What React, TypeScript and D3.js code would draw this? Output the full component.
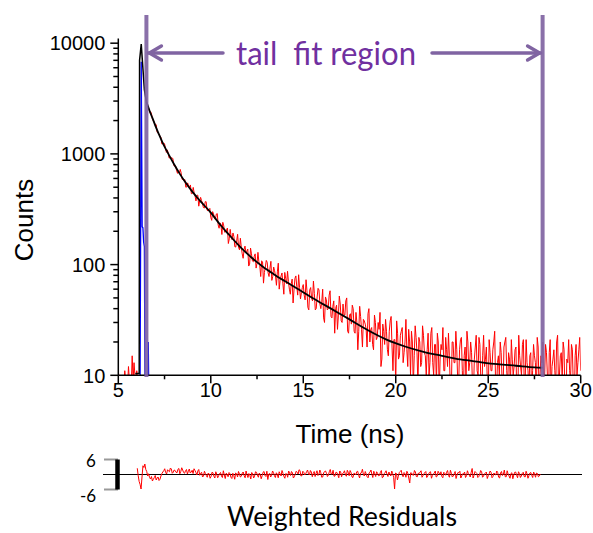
import React from 'react';
import * as d3 from 'd3';

// ---------- data ----------
const xMajorTicks = [5, 10, 15, 20, 25, 30];
const xMinorTicks = [7.5, 12.5, 17.5, 22.5, 27.5];
const yMajorTicks = [10, 100, 1000, 10000];
const yTickLabels = ['10', '100', '1000', '10000'];

const fitStart = 6.52;
const fitEnd = 27.94;

// fitted decay (black)
const fitTimes = [6.52, 6.6, 6.7, 6.8, 6.9, 7.0, 7.2, 7.4, 7.6, 7.8, 8.0, 8.3, 8.6, 9.0, 9.4, 10.0, 10.5, 11.0, 11.6, 12.2, 12.8, 13.4, 14.0, 14.8, 15.5, 16.5, 17.5, 18.5, 19.5, 20.5, 21.5, 22.5, 23.5, 24.5, 25.5, 26.5, 27.5, 27.94];
const fitCounts = [2950, 2700, 2430, 2200, 2000, 1800, 1500, 1260, 1080, 935, 815, 670, 562, 456, 380, 295, 230, 185, 144, 116, 96, 82, 71, 59, 50, 40, 32, 25.5, 21, 18.2, 16.3, 15.0, 13.9, 13.2, 12.6, 12.2, 11.8, 11.7];

// rising edge of the decay, outside the fit region (black)
const riseTimes = [5.92, 6.13, 6.15, 6.24, 6.41, 6.52];
const riseCounts = [10.4, 10.4, 7000, 9800, 3800, 2950];

// instrument response (blue)
const irfTimes = [6.18, 6.24, 6.29, 6.33, 6.37, 6.41, 6.44, 6.6, 6.62, 6.64];
const irfCounts = [10, 6800, 220, 215, 160, 145, 10, 10, 20, 10];

// measured counts before the peak (red), channels of 0.05 ns
const preStart = 5.0;
const preStep = 0.05;
const preCounts = [11, 9, 10, 8, 9, 10, 8, 11, 9, 10, 8, 12, 9, 10, 8, 15, 9, 13, 10, 9, 11, 9, 10];

// measured decay counts (red): even channels (6.60, 6.70, ...) and odd channels (6.65, 6.75, ...)
const tailStep = 0.1;
const tailStartEven = 6.6;
const tailCountsEven = [
  2726, 2371, 2285, 1987, 1838, 1568, 1508, 1421, 1235, 1238,
  1031, 1013, 932, 916, 789, 779, 667, 670, 670, 585,
  586, 502, 510, 524, 439, 446, 376, 423, 376, 379,
  328, 370, 310, 313, 267, 301, 260, 286, 228, 238,
  187, 224, 198, 214, 171, 178, 193, 145, 164, 144,
  173, 125, 137, 128, 138, 101, 125, 106, 125, 103,
  106, 78, 106, 85, 109, 84, 93, 72, 95, 79,
  86, 60, 79, 67, 85, 67, 70, 54, 74, 59,
  79, 53, 62, 56, 66, 48, 58, 39, 62, 47,
  55, 40, 61, 44, 46, 33, 51, 39, 53, 34,
  42, 24, 43, 35, 44, 30, 35, 47, 25, 35,
  29, 40, 24, 30, 25, 34, 18, 31, 26, 36,
  20, 27, 17, 30, 22, 26, 12, 29, 19, 25,
  15, 31, 18, 21, 8, 24, 15, 25, 13, 20,
  17, 26, 10, 20, 15, 22, 8, 20, 13, 23,
  15, 17, 10, 24, 13, 19, 8, 20, 14, 17,
  11, 22, 12, 15, 6, 20, 13, 17, 8, 21,
  11, 15, 9, 20, 13, 16, 7, 18, 11, 22,
  9, 15, 12, 18, 6, 16, 11, 20, 8, 13,
  10, 16, 7, 20, 11, 16, 8, 14, 12, 18,
  6, 15, 10, 21, 9, 13, 7, 16, 11, 15,
  6, 18, 10, 13, 8, 19, 10, 16, 7, 14,
  11, 20, 8, 15, 9, 17, 5, 13, 11, 19,
  8, 15, 10, 17, 11,
];
const tailStartOdd = 6.65;
const tailCountsOdd = [
  2545, 2406, 2040, 1926, 1837, 1543, 1448, 1233, 1248, 1117,
  1088, 915, 929, 909, 771, 708, 703, 724, 590, 580,
  500, 547, 501, 437, 498, 418, 424, 337, 405, 356,
  324, 370, 305, 322, 251, 286, 257, 289, 213, 230,
  241, 196, 205, 155, 208, 168, 179, 144, 188, 136,
  143, 114, 147, 132, 97, 141, 108, 119, 93, 129,
  98, 108, 68, 95, 105, 78, 107, 78, 88, 65,
  103, 72, 84, 54, 75, 87, 60, 67, 45, 75,
  63, 81, 49, 62, 53, 73, 41, 59, 50, 71,
  39, 51, 59, 40, 60, 30, 48, 40, 58, 33,
  47, 40, 26, 52, 31, 44, 35, 50, 24, 36,
  43, 25, 37, 17, 42, 26, 32, 29, 18, 40,
  26, 19, 35, 21, 30, 37, 14, 25, 32, 17,
  25, 34, 11, 21, 31, 14, 23, 27, 16, 32,
  12, 20, 25, 8, 28, 16, 22, 12, 28, 16,
  10, 24, 13, 27, 10, 19, 24, 7, 19, 27,
  11, 17, 24, 8, 20, 13, 25, 9, 17, 22,
  6, 18, 25, 11, 20, 8, 14, 23, 10, 19,
  5, 23, 14, 9, 21, 11, 17, 25, 7, 15,
  20, 9, 18, 22, 8, 14, 21, 10, 17, 5,
  23, 12, 19, 8, 21, 11, 15, 6, 19, 13,
  22, 7, 15, 20, 10, 16, 4, 21, 12, 17,
  8, 23, 10, 16, 20, 6, 14, 21, 9, 17,
  5, 19, 13, 22,
];

// weighted residuals: even and odd channels
const residStep = 0.1;
const residStartEven = 6.6;
const residEven = [
  2.5, -2.8, -5.8, 3.5, 4.2, 1.2, 0.3, -1.8, -2.6, -1.2,
  -2.2, -1.0, -1.9, 0.4, 1.5, 0.8, 1.9, 1.1, 2.2, 0.9,
  1.6, 0.7, 2.4, 1.2, 1.8, 0.5, 2.0, 1.3, 0.6, 1.7,
  2.3, 0.8, 1.4, -0.3, 0.9, -0.6, 0.4, -1.1, 0.2, -0.8,
  0.7, -1.4, 0.1, -0.5, 0.8, -1.2, -0.2, 0.5, -0.9, 0.3,
  -1.6, -0.4, 0.6, -1.0, 0.2, -0.7, 1.0, -1.3, -0.1, 0.4,
  -1.8, 0.3, -0.6, 0.9, -1.1, 0.0, -0.5, 1.2, -0.8, -2.0,
  0.4, -0.3, 0.8, -1.2, 0.1, 1.1, -0.6, 0.5, -1.5, 0.2,
  1.4, -0.4, 0.7, -0.9, 1.3, 0.2, 1.6, -0.5, 0.9, 0.3,
  1.8, -0.2, 1.0, 0.4, -0.8, 1.5, 0.1, 0.7, -1.0, 1.2,
  0.5, -0.3, 2.0, 0.2, -0.7, 0.9, -0.1, 1.4, -0.9, 0.6,
  0.0, 1.7, -0.5, 0.8, -1.2, 0.4, 1.1, -0.3, 0.6, 2.1,
  -0.6, 0.2, -1.3, 0.9, 0.1, 1.3, -0.8, 0.5, -0.4, 1.6,
  -1.0, 0.7, 0.0, 1.0, -0.6, 0.3, -5.8, 0.4, -0.7, 1.2,
  -0.2, 0.8, -1.1, 0.5, -3.4, 0.6, -0.3, 1.0, -0.9, 0.4,
  1.5, -0.5, 0.7, -1.2, 0.2, 1.1, -0.4, 0.6, -1.0, 1.3,
  0.0, -0.8, 0.9, -0.3, 1.6, -1.1, 0.5, -0.6, 1.2, -0.2,
  0.7, -1.4, 0.3, 1.0, -0.5, 0.4, -1.0, 2.4, -0.3, 0.8,
  -1.2, 0.2, 1.1, -0.7, 0.5, -1.6, 0.3, 0.9, -0.8, 0.1,
  1.4, -1.1, 0.6, -0.4, 1.8, -0.9, 0.2, -1.5, 0.7, -0.2,
  1.0, -1.3, 0.4, -0.6, 0.9, -1.0, 0.3, -0.5, 0.8, -1.2,
  0.1, 0.6, -0.9, 0.2,
];
const residStartOdd = 6.65;
const residOdd = [
  -0.5, -4.0, -1.0, 2.8, 2.0, -0.6, -1.2, -0.8, -1.9, -0.4,
  -1.4, -2.4, -0.6, 1.0, 2.3, 0.2, 1.4, 2.6, 0.5, 1.8,
  0.9, 2.1, 0.3, 2.7, 0.8, 1.5, 0.2, 2.2, 1.0, 0.4,
  1.6, -0.2, 2.0, 0.5, -1.0, 1.3, -0.4, 0.6, -1.5, 0.9,
  -0.7, 1.1, -1.3, 0.4, -0.6, 1.5, -1.6, 0.2, 0.8, -1.1,
  0.5, -1.9, 0.3, 1.2, -1.0, 0.6, -0.5, 1.4, -1.2, -0.3,
  0.8, -1.4, 1.1, -0.2, 0.6, -1.7, 0.9, -0.4, 1.3, 0.2,
  -1.0, 1.4, -0.5, 0.7, -1.3, 0.3, 1.6, -0.8, 0.4, -1.1,
  0.6, 1.2, -1.4, 0.2, 0.9, 1.9, -0.6, 1.3, -0.2, 1.1,
  0.3, 1.6, -0.9, 1.2, 0.5, -0.4, 1.8, -1.1, 0.6, 1.4,
  -0.8, 1.1, 0.2, 1.7, -0.6, 0.8, -1.3, 1.0, 0.4, 1.5,
  -0.7, 0.9, 1.6, -1.0, 0.5, -0.2, 1.3, -1.4, 0.7, 0.1,
  1.2, -0.9, 0.6, 1.8, -1.2, 0.3, 1.1, -0.5, 0.9, -1.3,
  0.4, 1.5, -0.8, 0.2, 1.4, -1.1, 0.6, -2.2, 0.8, 1.7,
  -0.9, 0.3, 1.3, -1.4, 0.7, -0.2, 1.6, -0.8, 0.5, 1.0,
  -1.1, 0.4, 1.2, -0.6, 0.9, -1.5, 0.2, 1.4, -0.7, 0.6,
  1.1, -1.3, 0.5, 0.9, -0.4, 1.7, -1.0, 0.3, -1.6, 0.8,
  1.3, -0.6, 0.2, -1.2, 1.5, -0.3, 0.9, -1.4, 1.2, 0.4,
  -0.8, 1.6, -1.1, 0.3, 1.0, -0.5, 1.4, -1.3, 0.6, -0.2,
  0.8, -1.4, 1.2, 0.1, -0.9, 1.5, -0.6, 0.4, -1.7, 0.9,
  -0.3, 1.1, -1.2, 0.5, -0.8, 1.3, -1.5, 0.6, -0.4, 1.0,
  -1.1, 0.4, -0.6,
];
const residTicks = [6, -6];
const residTickLabels = ['6', '-6'];

// ---------- styles ----------
const AXIS_FONT = '"Liberation Sans", Arial, sans-serif';
const NOTE_FONT = 'Lato, "Open Sans", sans-serif';
const PURPLE_LINE = '#8064A2';
const PURPLE_TEXT = '#7030A0';

type Pt = [number, number];
const zip = (ts: number[], vs: number[]): Pt[] => ts.map((t, i) => [t, vs[i]]);
const binned = (start: number, step: number, vs: number[]): Pt[] =>
  vs.map((v, i) => [start + i * step, v]);
const merged = (a: Pt[], b: Pt[]): Pt[] => a.concat(b).sort((p, q) => p[0] - q[0]);

export default function App() {
  const x = d3.scaleLinear().domain([5, 30]).range([118.3, 580.7]);
  const y = d3.scaleLog().domain([10, 11000]).range([375.3, 38.6]);
  const xr = d3.scaleLinear().domain([5, 30]).range([107, 580]);
  const yr = d3.scaleLinear().domain([-6, 6]).range([489.5, 459.5]);

  const line = d3.line<Pt>().x(d => x(d[0])).y(d => y(Math.max(d[1], 1)));
  const fitLine = d3.line<Pt>().x(d => x(d[0])).y(d => y(d[1])).curve(d3.curveMonotoneX);
  const residLine = d3.line<Pt>().x(d => xr(d[0])).y(d => yr(d[1]));

  const tailData = merged(binned(tailStartEven, tailStep, tailCountsEven), binned(tailStartOdd, tailStep, tailCountsOdd));
  const residData = merged(binned(residStartEven, residStep, residEven), binned(residStartOdd, residStep, residOdd));

  const [x0, x1] = x.range();
  const [yb, yt] = y.range();
  const yMinor = y.ticks().filter(v => !yMajorTicks.includes(v));

  const lx = x(fitStart);
  const rx = x(fitEnd);
  const arrowY = 53;
  const textX = 326;
  const leftArrowEnd = 223;
  const rightArrowStart = 432;

  return (
    <svg width={593} height={533} style={{ display: 'block', position: 'absolute', left: 0, top: 0 }}>
      <rect width={593} height={533} fill="#fff" />
      <defs>
        <clipPath id="plotClip">
          <rect x={x0} y={yt} width={x1 - x0} height={yb - yt} />
        </clipPath>
      </defs>

      {/* data */}
      <g clipPath="url(#plotClip)" fill="none">
        <path d={line(binned(preStart, preStep, preCounts)) || ''} stroke="#ff0000" strokeWidth={1} />
        <path d={line(tailData) || ''} stroke="#ff0000" strokeWidth={1} />
        <path d={line(zip(irfTimes, irfCounts)) || ''} stroke="#0000ff" strokeWidth={1.3} />
        <path d={line(zip(riseTimes, riseCounts)) || ''} stroke="#000" strokeWidth={1.5} />
        <path d={fitLine(zip(fitTimes, fitCounts)) || ''} stroke="#000" strokeWidth={1.8} />
      </g>

      {/* y axis */}
      <g stroke="#000" strokeWidth={1.5}>
        <line x1={x0} x2={x0} y1={yt} y2={yb} />
        {yMajorTicks.map(v => (
          <line key={'ym' + v} x1={x0 - 8} x2={x0} y1={y(v)} y2={y(v)} />
        ))}
        {yMinor.map(v => (
          <line key={'yn' + v} x1={x0 - 5} x2={x0} y1={y(v)} y2={y(v)} />
        ))}
      </g>
      <g fontFamily={AXIS_FONT} fontSize={20} fill="#000" textAnchor="end">
        {yMajorTicks.map((v, i) => (
          <text key={'yl' + v} x={x0 - 13} y={y(v)} dy="0.36em">{yTickLabels[i]}</text>
        ))}
      </g>

      {/* x axis */}
      <g stroke="#000" strokeWidth={1.5}>
        <line x1={x0} x2={x1} y1={yb} y2={yb} />
        {xMajorTicks.map(v => (
          <line key={'xm' + v} x1={x(v)} x2={x(v)} y1={yb} y2={yb + 8} />
        ))}
        {xMinorTicks.map(v => (
          <line key={'xn' + v} x1={x(v)} x2={x(v)} y1={yb} y2={yb + 4} />
        ))}
      </g>
      <g fontFamily={AXIS_FONT} fontSize={20} fill="#000" textAnchor="middle">
        {xMajorTicks.map(v => (
          <text key={'xl' + v} x={x(v)} y={yb + 22}>{String(v)}</text>
        ))}
      </g>

      <text x={350} y={443} fontFamily={AXIS_FONT} fontSize={26} textAnchor="middle">Time (ns)</text>
      <text transform="translate(33,220) rotate(-90)" fontFamily={AXIS_FONT} fontSize={26} textAnchor="middle">Counts</text>

      {/* fit region markers */}
      <g stroke={PURPLE_LINE} strokeWidth={4} strokeOpacity={0.92} fill="none">
        <line x1={lx} x2={lx} y1={15} y2={377} />
        <line x1={rx} x2={rx} y1={15} y2={377} />
      </g>
      <g stroke={PURPLE_LINE} strokeWidth={3.5} fill="none" strokeLinecap="round" strokeLinejoin="round">
        <line x1={lx + 2} x2={leftArrowEnd} y1={arrowY} y2={arrowY} />
        <polyline points={`${lx + 15},${arrowY - 7} ${lx + 3},${arrowY} ${lx + 15},${arrowY + 7}`} />
        <line x1={rightArrowStart} x2={rx - 2} y1={arrowY} y2={arrowY} />
        <polyline points={`${rx - 15},${arrowY - 7} ${rx - 3},${arrowY} ${rx - 15},${arrowY + 7}`} />
      </g>
      <text x={textX} y={65} fontFamily={NOTE_FONT} fontSize={32} fill={PURPLE_TEXT} textAnchor="middle"
        textLength={180} lengthAdjust="spacingAndGlyphs" style={{ whiteSpace: 'pre' }}>
        {'tail  fit region'}
      </text>

      {/* residuals */}
      <line x1={103} x2={582} y1={yr(0)} y2={yr(0)} stroke="#000" strokeWidth={1} />
      <path d={residLine(residData) || ''} stroke="#ff0000" strokeWidth={1} fill="none" />
      <g stroke="#999" strokeWidth={2}>
        {residTicks.map(v => (
          <line key={'rt' + v} x1={104} x2={118} y1={yr(v)} y2={yr(v)} />
        ))}
      </g>
      <line x1={117.5} x2={117.5} y1={yr(6)} y2={yr(-6)} stroke="#000" strokeWidth={4.5} />
      <g fontFamily={NOTE_FONT} fontSize={17} fill="#000" textAnchor="middle">
        {residTicks.map((v, i) => (
          <text key={'rl' + v} x={v > 0 ? 91 : 88} y={yr(v) + (v > 0 ? 7 : 12)}>{residTickLabels[i]}</text>
        ))}
      </g>
      <text x={342} y={526} fontFamily={NOTE_FONT} fontSize={26} textAnchor="middle"
        textLength={230} lengthAdjust="spacingAndGlyphs">Weighted Residuals</text>
    </svg>
  );
}
